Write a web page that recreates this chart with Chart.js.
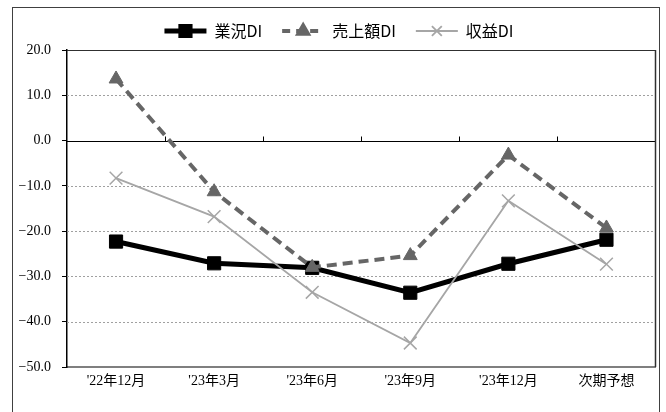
<!DOCTYPE html>
<html>
<head>
<meta charset="utf-8">
<script src="https://cdn.jsdelivr.net/npm/chart.js@4/dist/chart.umd.min.js"></script>
<style>
  html, body { margin: 0; padding: 0; background: #fff; }
  #wrap { position: relative; width: 666px; height: 412px; overflow: hidden; }
  #wrap canvas { position: absolute; left: 0; top: 0; }
  #frame { position: absolute; left: 12px; top: 7px; width: 646px; height: 440px;
           border: 1px solid #404040; pointer-events: none; }
</style>
</head>
<body>
<div id="wrap">
  <canvas id="c" width="666" height="412"></canvas>
  <div id="frame"></div>
</div>
<script>
// 調査時期
const periods = ["'22年12月", "'23年3月", "'23年6月", "'23年9月", "'23年12月", "次期予想"];

// 各DI（％ポイント）
const gyokyoDI = [-22.3, -27.1, -28.1, -33.6, -27.2, -21.9];
const uriageDI = [13.6, -11.3, -28.0, -25.4, -3.2, -19.3];
const shuekiDI = [-8.3, -16.8, -33.5, -44.7, -13.3, -27.3];

// 縦軸の目盛
const yMin = -50;
const yMax = 20;
const yStep = 10;

const tickFont = '"Liberation Serif", "Noto Sans CJK JP", serif';
const legendFont = '"Noto Sans CJK JP", sans-serif';

// 目盛線：0 の線は実線、その他は点線。0 の線上に区切りの目盛を付ける
const gridPlugin = {
  id: 'excelGrid',
  beforeDatasetsDraw(chart) {
    const { ctx, chartArea: a, scales: { x, y } } = chart;
    ctx.save();
    y.ticks.forEach(t => {
      const py = Math.round(y.getPixelForValue(t.value)) + 0.5;
      if (t.value === yMin) return;
      ctx.beginPath();
      if (t.value === 0) {
        ctx.setLineDash([]);
        ctx.strokeStyle = '#000';
        ctx.lineWidth = 1.2;
      } else if (t.value === yMax) {
        ctx.setLineDash([]);
        ctx.strokeStyle = '#303030';
        ctx.lineWidth = 1.2;
      } else {
        ctx.setLineDash([2, 2]);
        ctx.strokeStyle = '#a0a0a0';
        ctx.lineWidth = 1;
      }
      ctx.moveTo(a.left, py);
      ctx.lineTo(a.right, py);
      ctx.stroke();
    });
    ctx.setLineDash([]);
    // 右端の枠線
    ctx.strokeStyle = '#303030';
    ctx.lineWidth = 1.5;
    ctx.beginPath();
    ctx.moveTo(a.right, a.top);
    ctx.lineTo(a.right, a.bottom);
    ctx.stroke();
    // 0 の線上の区切り目盛
    const y0 = Math.round(y.getPixelForValue(0)) + 0.5;
    ctx.strokeStyle = '#000';
    ctx.lineWidth = 1;
    for (let i = 1; i < periods.length; i++) {
      const px = Math.round((x.getPixelForValue(i - 1) + x.getPixelForValue(i)) / 2) + 0.5;
      ctx.beginPath();
      ctx.moveTo(px, y0 - 5);
      ctx.lineTo(px, y0);
      ctx.stroke();
    }
    ctx.restore();
  }
};

// 凡例：線の見本とマーカーを並べる
const legendPlugin = {
  id: 'lineLegend',
  afterDraw(chart) {
    const ctx = chart.ctx;
    const cy = 31, lineLen = 42, textGap = 8, itemGap = 20, center = 339;
    ctx.save();
    ctx.font = '16px ' + legendFont;
    ctx.textBaseline = 'middle';
    const items = chart.data.datasets.map(ds => ({ ds, w: ctx.measureText(ds.label).width }));
    const total = items.reduce((s, it) => s + lineLen + textGap + it.w, 0) + itemGap * (items.length - 1);
    let x = center - total / 2;
    items.forEach(({ ds, w }) => {
      ctx.strokeStyle = ds.borderColor;
      ctx.lineWidth = ds.borderWidth;
      ctx.setLineDash(ds.borderDash ? [8, 6] : []);
      ctx.lineDashOffset = 0;
      ctx.beginPath();
      ctx.moveTo(x, cy);
      ctx.lineTo(x + lineLen, cy);
      ctx.stroke();
      ctx.setLineDash([]);
      ctx.fillStyle = ds.pointBackgroundColor;
      ctx.strokeStyle = ds.pointBorderColor;
      Chart.helpers.drawPoint(ctx, {
        pointStyle: ds.pointStyle,
        radius: ds.legendRadius,
        rotation: 0,
        borderWidth: ds.pointBorderWidth
      }, x + lineLen / 2, cy);
      ctx.fillStyle = '#000';
      ctx.fillText(ds.label, x + lineLen + textGap, cy);
      x += lineLen + textGap + w + itemGap;
    });
    ctx.restore();
  }
};

new Chart(document.getElementById('c'), {
  type: 'line',
  data: {
    labels: periods,
    datasets: [
      {
        label: '業況DI', data: gyokyoDI, order: 3,
        borderColor: '#000', borderWidth: 5,
        pointStyle: 'rect', pointRadius: 9.3, legendRadius: 6.5,
        pointBackgroundColor: '#000', pointBorderColor: '#000', pointBorderWidth: 1,
        tension: 0
      },
      {
        label: '売上額DI', data: uriageDI, order: 2,
        borderColor: '#666', borderWidth: 4, borderDash: [10, 6],
        pointStyle: 'triangle', pointRadius: 8, legendRadius: 5.5,
        pointBackgroundColor: '#666', pointBorderColor: '#666', pointBorderWidth: 1,
        tension: 0
      },
      {
        label: '収益DI', data: shuekiDI, order: 1,
        borderColor: '#a6a6a6', borderWidth: 1.8,
        pointStyle: 'crossRot', pointRadius: 9, legendRadius: 7,
        pointBackgroundColor: '#a6a6a6', pointBorderColor: '#a6a6a6', pointBorderWidth: 1.5,
        tension: 0
      }
    ]
  },
  options: {
    responsive: false,
    animation: false,
    events: [],
    layout: { padding: { top: 50, right: 8, bottom: 0, left: 0 } },
    plugins: { legend: { display: false }, tooltip: { enabled: false } },
    scales: {
      x: {
        offset: true,
        grid: { display: false, drawTicks: false, tickLength: 0 },
        border: { display: true, color: '#7f7f7f', width: 2 },
        ticks: {
          padding: 6, color: '#000', maxRotation: 0, autoSkip: false,
          font: { family: tickFont, size: 14 }
        },
        afterFit(s) { s.height = 45; }
      },
      y: {
        min: yMin, max: yMax,
        grid: { drawOnChartArea: false, drawTicks: true, tickLength: 5, tickColor: '#000' },
        border: { display: true, color: '#000', width: 1.5 },
        ticks: {
          stepSize: yStep, padding: 11, color: '#000',
          font: { family: tickFont, size: 14 },
          callback: v => (v < 0 ? '\u2212' : '') + Math.abs(v).toFixed(1)
        },
        afterFit(s) { s.width = 67; }
      }
    }
  },
  plugins: [gridPlugin, legendPlugin]
});
</script>
</body>
</html>
